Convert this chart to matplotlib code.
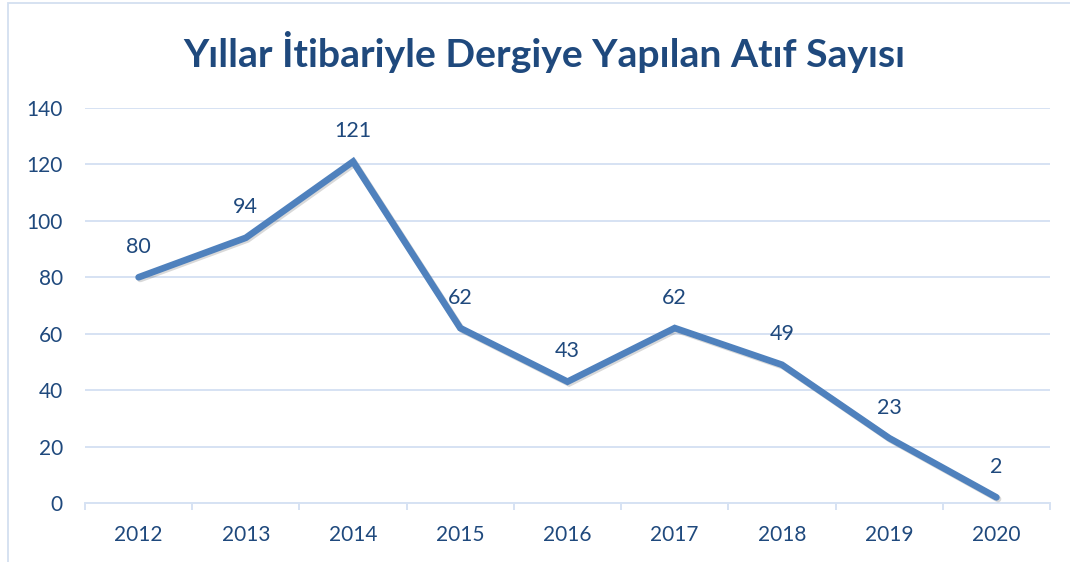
import matplotlib as mpl
from matplotlib import pyplot as plt, patheffects as pe, ticker as tkr
from matplotlib.patches import Rectangle

mpl.use('Agg')

years = ['2012', '2013', '2014', '2015', '2016', '2017', '2018', '2019', '2020']
citations = [80, 94, 121, 62, 43, 62, 49, 23, 2]
y_ticks = [0, 20, 40, 60, 80, 100, 120, 140]
title = 'Yıllar İtibariyle Dergiye Yapılan Atıf Sayısı'

text_color = '#1F497D'
line_color = '#4F81BD'
grid_color = '#D6E2F3'

plt.rcParams['font.family'] = ['Lato', 'DejaVu Sans']

W, H = 1070, 562
fig = plt.figure(figsize=(W / 100, H / 100), dpi=100)
fig.patch.set_facecolor('white')

# chart border (runs off the right and bottom of the picture)
fig.patches.append(Rectangle((8 / W, -0.05), 1.1, 1 - 3 / H + 0.05,
                             transform=fig.transFigure, fill=False,
                             edgecolor='#D3DFF0', linewidth=1.3))

ax = fig.add_axes([85 / W, 1 - 503 / H, (1050 - 85) / W, (503 - 108) / H])
x = list(range(len(years)))
ax.plot(x, citations, color=line_color, linewidth=4.8,
        solid_capstyle='round', solid_joinstyle='miter', zorder=3,
        path_effects=[pe.SimpleLineShadow(offset=(1.2, -1.2),
                                          shadow_color='black', alpha=0.15),
                      pe.Normal()])

for xi, v in zip(x, citations):
    ax.annotate(str(v), (xi, v), xytext=(0, 22), textcoords='offset points',
                ha='center', va='center', fontsize=15.5, color=text_color)

ax.set_xlim(-0.5, len(years) - 0.5)
ax.set_ylim(0, 140)
ax.set_yticks(y_ticks)
ax.set_xticks(x)
ax.set_xticklabels(years)
ax.xaxis.set_minor_locator(tkr.FixedLocator([i - 0.5 for i in range(len(years) + 1)]))

ax.grid(axis='y', color=grid_color, linewidth=1.4)
ax.set_axisbelow(True)
for side in ['left', 'right', 'top']:
    ax.spines[side].set_visible(False)
ax.spines['bottom'].set_color(grid_color)
ax.spines['bottom'].set_linewidth(1.4)

ax.tick_params(axis='y', length=0, pad=16, labelsize=15, labelcolor=text_color)
ax.tick_params(axis='x', which='major', length=0, pad=16, labelsize=15,
               labelcolor=text_color)
ax.tick_params(axis='x', which='minor', length=5, width=1.4, color=grid_color,
               direction='out')

fig.text(544 / W, 1 - 52 / H, title, ha='center', va='center',
         fontsize=28.2, fontweight='bold', color=text_color)

plt.savefig('out.png', dpi=100)
